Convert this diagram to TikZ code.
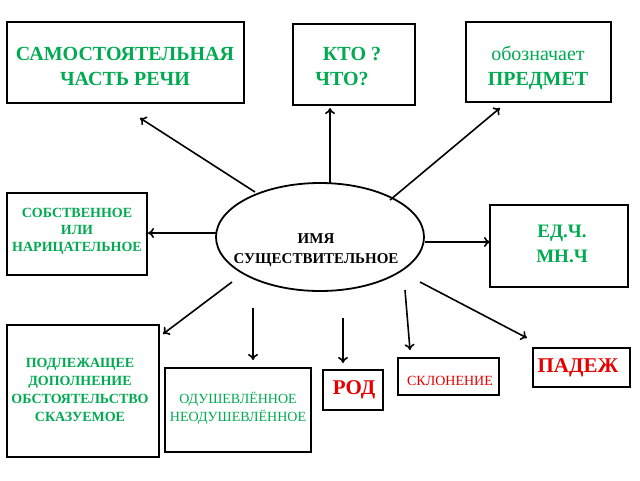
\documentclass[tikz,border=0pt]{standalone}
\usepackage{fontspec}
\setmainfont{Liberation Serif}
\usetikzlibrary{arrows.meta,shapes.geometric}
\definecolor{gr}{RGB}{0,170,80}
\definecolor{rd}{RGB}{230,0,0}
\begin{document}
\begin{tikzpicture}[x=1pt,y=-1pt,
  bx/.style={draw,line width=1.8pt},
  ar/.style={line width=1.6pt,-{To[length=6pt,width=10pt]}},
  gt/.style={text=gr,font=\bfseries,align=center},
  tx/.style={align=center}]
\useasboundingbox (0,0) rectangle (640,480);
\draw[bx] (7,22) rectangle (244,103);
\node[gt,font=\bfseries\fontsize{20}{25}\selectfont] (a) at (125,66) {САМОСТОЯТЕЛЬНАЯ\\ЧАСТЬ РЕЧИ};
\draw[bx] (293,24) rectangle (415,105);
\node[gt,font=\bfseries\fontsize{20}{25}\selectfont] (b) at (342,67) {\ \ \ \ КТО ?\\ЧТО?};
\draw[bx] (466,22) rectangle (611,102);
\node[tx,text=gr,font=\fontsize{20}{25}\selectfont] (c) at (538,68) {обозначает\\\textbf{ПРЕДМЕТ}};
\node[draw,line width=1.8pt,ellipse,minimum width=208pt,minimum height=108pt] (e) at (320,237) {};
\node[tx,font=\bfseries\fontsize{15}{20}\selectfont] at (316,250) {ИМЯ\\СУЩЕСТВИТЕЛЬНОЕ};
\draw[bx] (7,193) rectangle (147,275);
\node[gt,font=\bfseries\fontsize{14}{17}\selectfont] (d) at (77,231) {СОБСТВЕННОЕ\\ИЛИ\\НАРИЦАТЕЛЬНОЕ};
\draw[bx] (490,205) rectangle (628,287);
\node[gt,font=\bfseries\fontsize{19}{25}\selectfont] (f) at (562,244) {ЕД.Ч.\\МН.Ч};
\draw[bx] (7,325) rectangle (159,457);
\node[gt,font=\bfseries\fontsize{14}{18}\selectfont] (g) at (80,390) {ПОДЛЕЖАЩЕЕ\\ДОПОЛНЕНИЕ\\ОБСТОЯТЕЛЬСТВО\\СКАЗУЕМОЕ};
\draw[bx] (165,368) rectangle (311,452);
\node[tx,text=gr,font=\fontsize{14}{18}\selectfont] (h) at (238,408) {ОДУШЕВЛЁННОЕ\\НЕОДУШЕВЛЁННОЕ};
\draw[bx] (323,370) rectangle (383,410);
\node[text=rd,font=\bfseries\fontsize{21}{24}\selectfont] (i) at (354,390) {РОД};
\draw[bx] (398,358) rectangle (499,395);
\node[text=rd,font=\fontsize{14}{16}\selectfont] (j) at (450,381) {СКЛОНЕНИЕ};
\draw[bx] (533,348) rectangle (630,387);
\node[text=rd,font=\bfseries\fontsize{21}{24}\selectfont] (k) at (578,368) {ПАДЕЖ};
\draw[ar] (255,192) -- (140,118);
\draw[ar] (330,183) -- (330,108);
\draw[ar] (390,200) -- (500,108);
\draw[ar] (216,233) -- (148,233);
\draw[ar] (425,242) -- (490,242);
\draw[ar] (232,282) -- (163,334);
\draw[ar] (253,308) -- (253,360);
\draw[ar] (343,318) -- (343,363);
\draw[ar] (405,290) -- (410,350);
\draw[ar] (420,282) -- (527,338);
\end{tikzpicture}
\end{document}
